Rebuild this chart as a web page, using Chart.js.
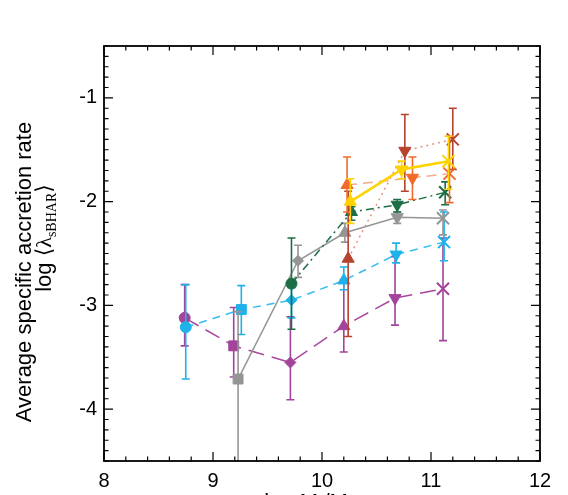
<!DOCTYPE html>
<html>
<head>
<meta charset="utf-8">
<script src="https://cdn.jsdelivr.net/npm/chart.js@4.4.1/dist/chart.umd.min.js"></script>
<style>
    html, body { margin: 0; padding: 0; background: #fff; overflow: hidden; }
    canvas { display: block; }
</style>
</head>
<body>
<canvas id="chart" width="568" height="495"></canvas>
<script>
// Axis ticks
const xTicks = [8, 9, 10, 11, 12];
const yTicks = [-4, -3, -2, -1];

// Series: x = log stellar mass, y = log <lambda_sBHAR>, lo/hi = error bar ends
const magentaX = [8.74, 9.19, 9.71, 10.20, 10.67, 11.11];
const magentaY = [-3.12, -3.39, -3.55, -3.20, -2.93, -2.84];
const magentaLo = [-3.39, -3.69, -3.91, -3.45, -3.19, -3.34];
const magentaHi = [-2.80, -3.02, -3.11, -2.75, -2.53, -2.35];

const cyanX = [8.75, 9.26, 9.72, 10.20, 10.68, 11.12];
const cyanY = [-3.21, -3.04, -2.95, -2.76, -2.51, -2.39];
const cyanLo = [-3.71, -3.28, -3.12, -2.85, -2.59, -2.57];
const cyanHi = [-2.80, -2.81, -2.83, -2.63, -2.40, -2.10];

const grayX = [9.23, 9.78, 10.21, 10.69, 11.11];
const grayY = [-3.71, -2.57, -2.30, -2.15, -2.16];
const grayLo = [-5.5, -2.73, -2.39, -2.21, -2.32];
const grayHi = [-3.06, -2.42, -2.21, -2.10, -2.08];

const greenX = [9.72, 10.27, 10.69, 11.13];
const greenY = [-2.79, -2.10, -2.03, -1.91];
const greenLo = [-3.23, -2.18, -2.10, -2.03];
const greenHi = [-2.35, -2.05, -1.98, -1.81];

const yellowX = [10.26, 10.73, 11.16];
const yellowY = [-2.00, -1.69, -1.61];
const yellowLo = [-2.21, -1.78, -1.88];
const yellowHi = [-1.78, -1.61, -1.37];

const orangeX = [10.23, 10.83, 11.17];
const orangeY = [-1.84, -1.77, -1.73];
const orangeLo = [-2.10, -1.98, -2.01];
const orangeHi = [-1.57, -1.57, -1.37];

const brickX = [10.24, 10.76, 11.20];
const brickY = [-2.55, -1.51, -1.40];
const brickLo = [-3.30, -1.90, -1.69];
const brickHi = [-1.90, -1.16, -1.10];

// Marker shapes per point
const shapes6 = ['circle', 'square', 'diamond', 'up', 'down', 'cross'];
const shapes5 = ['square', 'diamond', 'up', 'down', 'cross'];
const shapes4 = ['circle', 'up', 'down', 'cross'];
const shapes3 = ['up', 'down', 'cross'];

const yTitleLine1 = 'Average specific accretion rate';

const SANS = '"Liberation Sans", Arial, Helvetica, sans-serif';
const SERIF = '"Liberation Serif", "DejaVu Serif", serif';

const styleOf = { circle: 'circle', square: 'rect', diamond: 'rectRot', up: 'triangle', down: 'triangle', cross: 'crossRot' };
const radiusOf = { circle: 5.5, square: 7, diamond: 5.5, up: 7, down: 7, cross: 8.5 };

function makeSeries(xs, ys, lo, hi, shapes, color, lineColor, dash, width) {
    return {
        data: xs.map((x, i) => ({ x: x, y: ys[i] })),
        errLo: lo,
        errHi: hi,
        barColor: color,
        showLine: true,
        borderColor: lineColor,
        borderWidth: width,
        borderDash: dash,
        backgroundColor: color,
        pointStyle: shapes.map(s => styleOf[s]),
        pointRotation: shapes.map(s => s === 'down' ? 180 : 0),
        pointRadius: shapes.map(s => radiusOf[s]),
        pointBackgroundColor: color,
        pointBorderColor: color,
        pointBorderWidth: shapes.map(s => s === 'cross' ? 2 : 1),
        tension: 0
    };
}

// listed top-most first (Chart.js draws the first dataset last)
const datasets = [
    makeSeries(yellowX, yellowY, yellowLo, yellowHi, shapes3, '#ffd200', '#ffd200', [], 2.5),
    makeSeries(orangeX, orangeY, orangeLo, orangeHi, shapes3, '#f26a2a', '#f5aa8c', [10, 6], 1.5),
    makeSeries(brickX, brickY, brickLo, brickHi, shapes3, '#b5432e', '#e8907e', [2, 4], 1.5),
    makeSeries(greenX, greenY, greenLo, greenHi, shapes4, '#1b6e45', '#1b6e45', [8, 4, 2, 4], 1.5),
    makeSeries(grayX, grayY, grayLo, grayHi, shapes5, '#959595', '#959595', [], 1.5),
    makeSeries(cyanX, cyanY, cyanLo, cyanHi, shapes6, '#1db2ea', '#36bdf0', [8, 6], 1.5),
    makeSeries(magentaX, magentaY, magentaLo, magentaHi, shapes6, '#a3449b', '#a8489f', [16, 8], 1.5)
];

// Error bars, drawn just before each dataset so stacking matches
const errorBars = {
    id: 'errorBars',
    beforeDatasetDraw(chart, args) {
        const ds = chart.data.datasets[args.index];
        if (!ds.errLo) return;
        const { ctx, chartArea: a, scales: { x, y } } = chart;
        ctx.save();
        ctx.beginPath();
        ctx.rect(a.left, a.top, a.right - a.left, a.bottom - a.top);
        ctx.clip();
        ctx.strokeStyle = ds.barColor;
        ctx.lineWidth = 1.6;
        ctx.setLineDash([]);
        ds.data.forEach((p, i) => {
            const px = x.getPixelForValue(p.x);
            const lo = y.getPixelForValue(ds.errLo[i]);
            const hi = y.getPixelForValue(ds.errHi[i]);
            ctx.beginPath();
            ctx.moveTo(px, lo); ctx.lineTo(px, hi);
            ctx.moveTo(px - 4, lo); ctx.lineTo(px + 4, lo);
            ctx.moveTo(px - 4, hi); ctx.lineTo(px + 4, hi);
            ctx.stroke();
        });
        ctx.restore();
    }
};

// Box frame with inward major/minor ticks on all four sides
const frame = {
    id: 'frame',
    afterDraw(chart) {
        const { ctx, chartArea: a, scales: { x, y } } = chart;
        ctx.save();
        ctx.strokeStyle = '#000';
        ctx.lineWidth = 1.2;
        ctx.beginPath();
        for (let k = 0; k <= 20; k++) {
            const v = x.min + k * 0.2;
            const px = x.getPixelForValue(v);
            const len = k % 5 === 0 ? 9 : 4.5;
            ctx.moveTo(px, a.bottom); ctx.lineTo(px, a.bottom - len);
            ctx.moveTo(px, a.top); ctx.lineTo(px, a.top + len);
        }
        for (let k = 0; k <= 40; k++) {
            const v = y.min + k * 0.1;
            const py = y.getPixelForValue(v);
            const len = (k + 5) % 10 === 0 ? 9 : 4.5;
            ctx.moveTo(a.left, py); ctx.lineTo(a.left + len, py);
            ctx.moveTo(a.right, py); ctx.lineTo(a.right - len, py);
        }
        ctx.stroke();
        ctx.lineWidth = 1.8;
        ctx.strokeRect(a.left, a.top, a.right - a.left, a.bottom - a.top);
        ctx.restore();
    }
};

// draw a run of text pieces with different fonts, centred on 0
function drawPieces(ctx, pieces) {
    let total = 0;
    pieces.forEach(p => { ctx.font = p.font; p.w = ctx.measureText(p.t).width; total += p.w; });
    let cx = -total / 2;
    pieces.forEach(p => {
        ctx.font = p.font;
        ctx.fillText(p.t, cx, p.dy || 0);
        cx += p.w;
    });
}

// Axis titles (mixed fonts, so drawn by hand)
const titles = {
    id: 'titles',
    afterDraw(chart) {
        const ctx = chart.ctx;
        ctx.save();
        ctx.fillStyle = '#000';
        ctx.textAlign = 'left';
        ctx.textBaseline = 'alphabetic';

        ctx.save();
        ctx.translate(31, 272);
        ctx.rotate(-Math.PI / 2);
        drawPieces(ctx, [{ t: yTitleLine1, font: '22px ' + SANS }]);
        ctx.restore();

        ctx.save();
        ctx.translate(51, 238);
        ctx.rotate(-Math.PI / 2);
        drawPieces(ctx, [
            { t: 'log ', font: '22px ' + SANS },
            { t: '\u27E8', font: '22px ' + SERIF },
            { t: '\u03BB', font: '22px ' + SERIF },
            { t: 'sBHAR', font: '14px ' + SERIF, dy: 5 },
            { t: '\u27E9', font: '22px ' + SERIF }
        ]);
        ctx.restore();

        // x title sits mostly below the bottom edge, as in the cropped original
        ctx.save();
        ctx.translate(312, 509);
        drawPieces(ctx, [
            { t: 'log M', font: '22px ' + SANS },
            { t: '*', font: '14px ' + SANS, dy: 5 },
            { t: '/M', font: '22px ' + SANS },
            { t: '\u2299', font: '14px ' + SANS, dy: 5 }
        ]);
        ctx.restore();

        ctx.restore();
    }
};

const tickFont = { family: SANS, size: 20 };

new Chart(document.getElementById('chart'), {
    type: 'scatter',
    data: { datasets: datasets },
    options: {
        responsive: false,
        animation: false,
        devicePixelRatio: 1,
        layout: { padding: { top: 46, right: 28, left: 0, bottom: 0 } },
        plugins: {
            legend: { display: false },
            tooltip: { enabled: false }
        },
        scales: {
            x: {
                type: 'linear',
                min: 8,
                max: 12,
                grid: { display: false, drawTicks: false },
                border: { display: false },
                afterBuildTicks: s => { s.ticks = xTicks.map(v => ({ value: v })); },
                afterFit: s => { s.height = 34; },
                ticks: { font: tickFont, color: '#000', padding: 8, maxRotation: 0, autoSkip: false,
                         callback: v => String(v) }
            },
            y: {
                type: 'linear',
                min: -4.5,
                max: -0.5,
                grid: { display: false, drawTicks: false },
                border: { display: false },
                afterBuildTicks: s => { s.ticks = yTicks.map(v => ({ value: v })); },
                afterFit: s => { s.width = 104; },
                ticks: { font: tickFont, color: '#000', padding: 7, autoSkip: false,
                         callback: v => String(v) }
            }
        }
    },
    plugins: [errorBars, frame, titles]
});
</script>
</body>
</html>
